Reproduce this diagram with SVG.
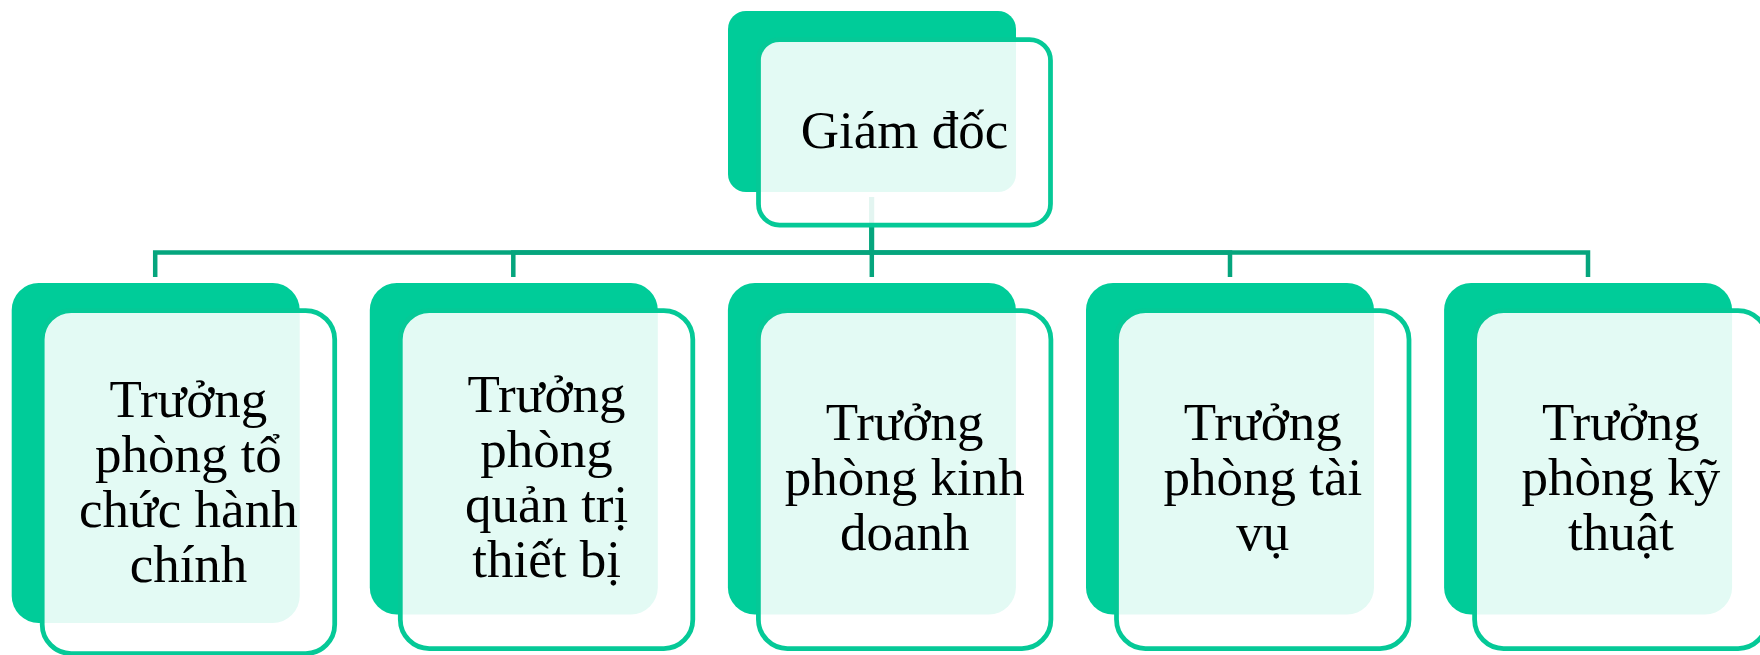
<svg xmlns="http://www.w3.org/2000/svg" width="1760" height="655" viewBox="0 0 1760 655">
  <style>
    .back { fill: #00CC99; }
    .front { fill: #FFFFFF; fill-opacity: 0.89; stroke: #05C997; stroke-width: 4.75; }
    .link { fill: none; stroke: #05A57D; stroke-width: 4.5; stroke-linejoin: miter; }
    .label { font-family: "Liberation Serif", "Times New Roman", serif; font-size: 53px; fill: #000000; text-anchor: middle; }
  </style>
  <rect width="1760" height="655" fill="#FFFFFF"/>

  <!-- connectors from the director to each department head -->
  <g id="connectors">
    <path class="link" d="M871.8,197 V252.5 H155.2 V277"/>
    <path class="link" d="M871.8,197 V252.5 H513.3 V277"/>
    <path class="link" d="M871.8,197 V277"/>
    <path class="link" d="M871.8,197 V252.5 H1230 V277"/>
    <path class="link" d="M871.8,197 V252.5 H1588 V277"/>
  </g>

  <g id="node-giam-doc">
    <rect class="back" x="728" y="11" width="288" height="181" rx="18"/>
    <rect class="front" x="758.5" y="39.5" width="292" height="185.5" rx="21"/>
    <text class="label" x="904.5" y="148">Giám đốc</text>
  </g>

  <!-- wrapped lines sit half a space right of the box centre; last lines are centred -->
  <g id="node-to-chuc-hanh-chinh">
    <rect class="back" x="11.7" y="283" width="288" height="340" rx="27"/>
    <rect class="front" x="42.2" y="310.5" width="292.5" height="343" rx="29"/>
    <text class="label">
      <tspan x="195" y="417">Trưởng</tspan>
      <tspan x="195" y="472">phòng tổ</tspan>
      <tspan x="195" y="527">chức hành</tspan>
      <tspan x="188.5" y="582">chính</tspan>
    </text>
  </g>

  <g id="node-quan-tri-thiet-bi">
    <rect class="back" x="369.8" y="283" width="288" height="331.5" rx="27"/>
    <rect class="front" x="400.3" y="310.5" width="292.5" height="338" rx="29"/>
    <text class="label">
      <tspan x="553.2" y="412">Trưởng</tspan>
      <tspan x="553.2" y="467">phòng</tspan>
      <tspan x="553.2" y="522">quản trị</tspan>
      <tspan x="546.6" y="577">thiết bị</tspan>
    </text>
  </g>

  <g id="node-kinh-doanh">
    <rect class="back" x="727.9" y="283" width="288" height="331.5" rx="27"/>
    <rect class="front" x="758.4" y="310.5" width="292.5" height="338" rx="29"/>
    <text class="label">
      <tspan x="911.3" y="440">Trưởng</tspan>
      <tspan x="911.3" y="495">phòng kinh</tspan>
      <tspan x="904.7" y="550">doanh</tspan>
    </text>
  </g>

  <g id="node-tai-vu">
    <rect class="back" x="1086" y="283" width="288" height="331.5" rx="27"/>
    <rect class="front" x="1116.5" y="310.5" width="292.5" height="338" rx="29"/>
    <text class="label">
      <tspan x="1269.4" y="440">Trưởng</tspan>
      <tspan x="1269.4" y="495">phòng tài</tspan>
      <tspan x="1262.8" y="550">vụ</tspan>
    </text>
  </g>

  <g id="node-ky-thuat">
    <rect class="back" x="1444.1" y="283" width="288" height="331.5" rx="27"/>
    <rect class="front" x="1474.6" y="310.5" width="292.5" height="338" rx="29"/>
    <text class="label">
      <tspan x="1627.5" y="440">Trưởng</tspan>
      <tspan x="1627.5" y="495">phòng kỹ</tspan>
      <tspan x="1620.9" y="550">thuật</tspan>
    </text>
  </g>
</svg>
